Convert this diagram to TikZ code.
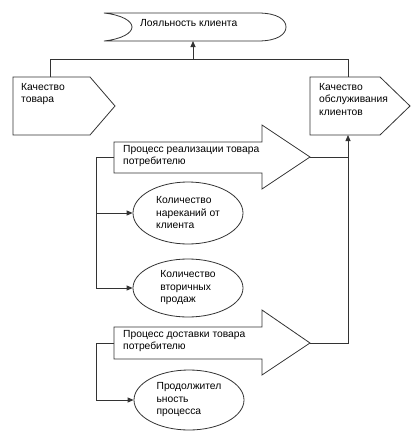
\documentclass[tikz,border=0pt]{standalone}
\usepackage{fontspec}
\setmainfont{Liberation Sans}
\usetikzlibrary{arrows.meta,shapes.geometric}
\begin{document}
\begin{tikzpicture}[x=1pt,y=-1pt,
  ln/.style={draw=black!80, line width=0.8pt},
  arr/.style={ln, -{Triangle[length=6pt,width=5pt]}},
  txt/.style={font=\fontsize{10.3}{12.5}\selectfont, align=left, inner sep=0pt, anchor=north west},
  oval/.style={ellipse, draw=black!80, line width=0.8pt, minimum width=110pt, minimum height=62pt, inner sep=0pt, align=left, font=\fontsize{10.3}{12.5}\selectfont}]
\useasboundingbox[fill=white] (0,0) rectangle (420,437);

% top shape: loyalty
\draw[ln] (104,13) -- (258,13) .. controls (278,13) and (286,20) .. (286,27)
  .. controls (286,34) and (278,41) .. (258,41) -- (104,41)
  .. controls (122,39) and (132,33) .. (132,27) .. controls (132,21) and (122,15) .. (104,13) -- cycle;
\node[txt] (loyal) at (140,19) {Лояльность клиента};
\coordinate (loyalS) at (193,41);

% pentagon 1
\draw[ln] (13,77) -- (90,77) -- (115,106) -- (90,135) -- (13,135) -- cycle;
\node[txt] (kt) at (21,83) {Качество\\товара};
\coordinate (ktN) at (50,77);

% pentagon 2
\draw[ln] (310,77) -- (380,77) -- (410,106) -- (380,135) -- (310,135) -- cycle;
\node[txt] (ko) at (319,83) {Качество\\обслуживания\\клиентов};
\coordinate (koN) at (348,77);
\coordinate (koS) at (348,135);

% process 1
\draw[ln] (114,142) -- (262,142) -- (262,125) -- (310,157) -- (262,189) -- (262,173) -- (114,173) -- cycle;
\node[txt] (p1) at (123,145) {Процесс реализации товара\\потребителю};
\coordinate (p1W) at (114,157);
\coordinate (p1E) at (310,157);

% process 2
\draw[ln] (114,327) -- (262,327) -- (262,310) -- (310,343) -- (262,375) -- (262,359) -- (114,359) -- cycle;
\node[txt] (p2) at (123,330) {Процесс доставки товара\\потребителю};
\coordinate (p2W) at (114,343);
\coordinate (p2E) at (310,343);

% ellipses
\node[oval] (e1) at (188,213) {Количество\\нареканий от\\клиента};
\node[oval, minimum height=58pt] (e2) at (188,288) {Количество\\вторичных\\продаж};
\node[oval, minimum height=60pt] (e3) at (189,400) {Продолжител\\ьность\\процесса};

% junctions
\coordinate (jT) at (193,59);
\coordinate (jL) at (50,59);
\coordinate (jR) at (348,59);
\coordinate (v1) at (96,157);
\coordinate (v1b) at (96,288);
\coordinate (v2) at (96,343);
\coordinate (v2b) at (96,400);
\coordinate (r1) at (348,157);
\coordinate (r2) at (348,343);

% connectors
\draw[ln] (ktN) -- (jL) -- (jR) -- (koN);
\draw[arr] (jT) -- (loyalS);
\draw[ln] (p1W) -- (v1) -- (v1b);
\draw[arr] (v1 |- e1.west) -- (e1.west);
\draw[arr] (v1b) -- (e2.west);
\draw[ln] (p2W) -- (v2) -- (v2b);
\draw[arr] (v2b) -- (e3.west);
\draw[ln] (p1E) -- (r1);
\draw[arr] (p2E) -- (r2) -- (koS);
\end{tikzpicture}
\end{document}
